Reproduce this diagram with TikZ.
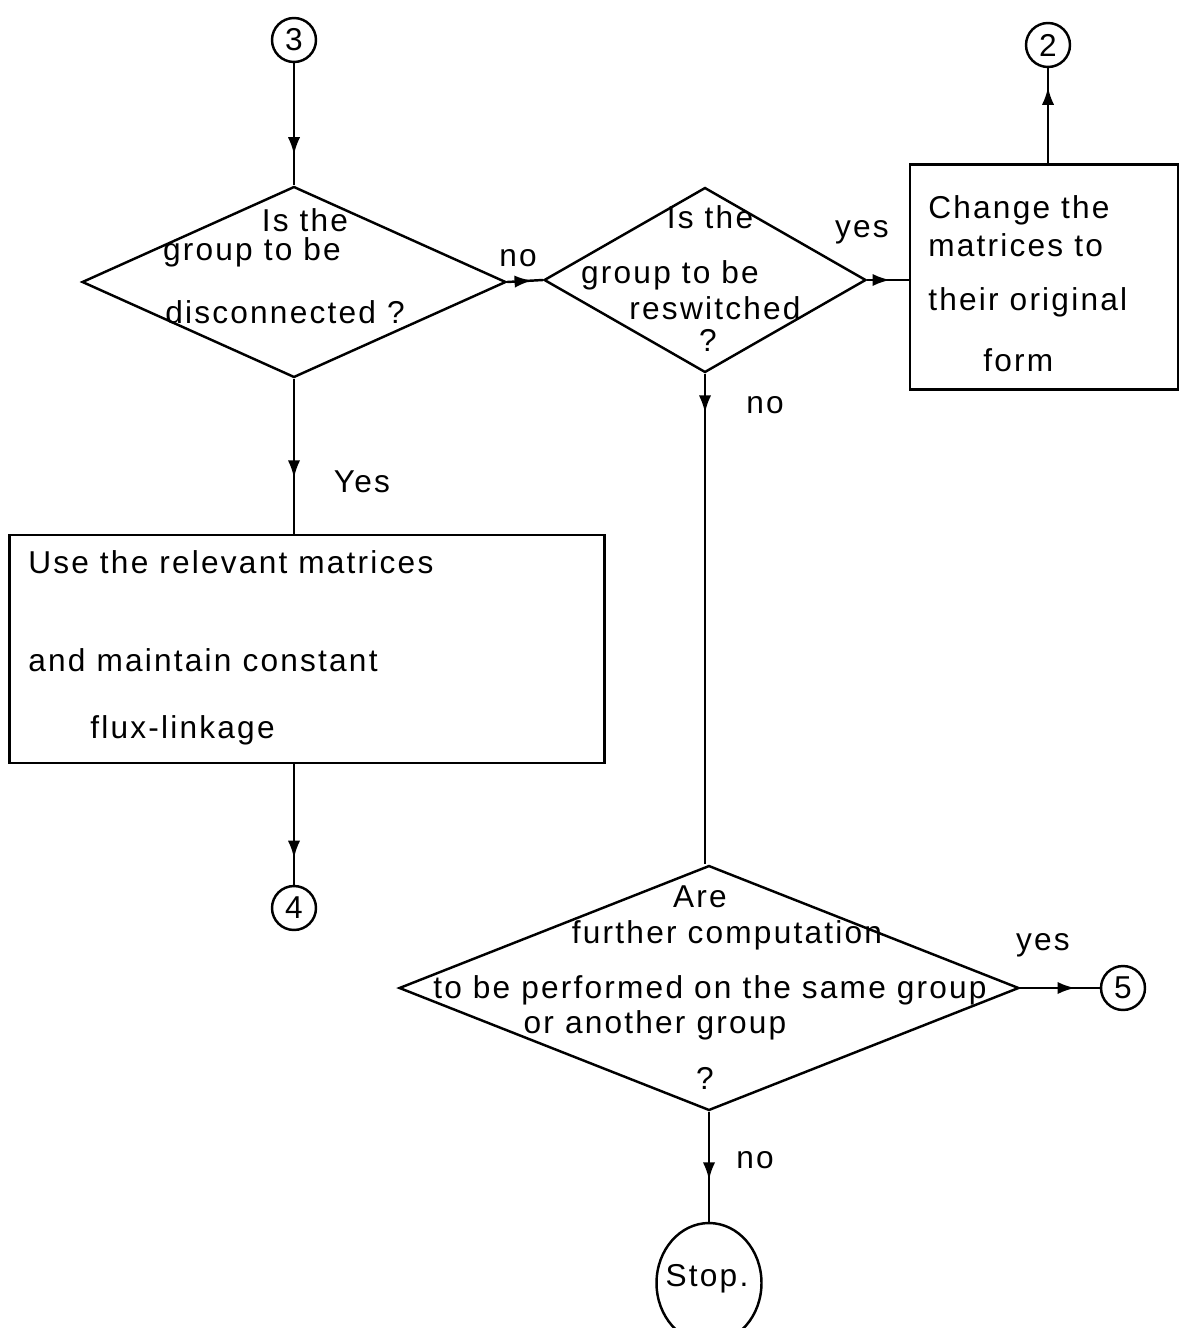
\documentclass[tikz,border=0pt]{standalone}
\usepackage{fontspec}
\setmainfont[LetterSpace=7]{Liberation Sans}
\usetikzlibrary{shapes.geometric,decorations.markings,arrows.meta}

\tikzset{
  flowline/.style={line width=1.4pt},
  arrowat/.style={flowline,postaction={decorate},
    decoration={markings,mark=at position #1 with {\arrow{Latex[length=10pt,width=7pt]}}}},
  decision/.style={draw,diamond,line width=1.4pt,inner sep=0pt},
  process/.style={draw,rectangle,line width=1.4pt,inner sep=0pt},
  connector/.style={draw,circle,line width=1.4pt,minimum size=0.88cm,inner sep=0pt},
  txt/.style={inner sep=0pt}
}

\begin{document}
\begin{tikzpicture}[x=0.02cm,y=-0.02cm,font=\fontsize{18}{22}\selectfont]
    \useasboundingbox (0,0) rectangle (1187,1328);
    % Connectors and stop
    \node[connector] (c3) at (294,40) {3};
    \node[connector] (c2) at (1048,45) {2};
    \node[connector] (c4) at (294,908) {4};
    \node[connector] (c5) at (1123,988) {5};
    \node[draw,ellipse,line width=1.4pt,minimum width=2.1cm,minimum height=2.4cm,inner sep=0pt] (stop) at (709,1283) {};
    \node[txt] (stoptxt) at (707,1279) {Stop.};

    % Decisions
    \node[decision,minimum width=8.48cm,minimum height=3.82cm] (d1) at (294,282) {};
    \node[decision,minimum width=6.44cm,minimum height=3.7cm] (d2) at (705,280) {};
    \node[decision,minimum width=12.4cm,minimum height=4.9cm] (d3) at (709,988) {};

    % Boxes
    \node[process,minimum width=11.9cm,minimum height=4.56cm] (box1) at (307,649) {};
    \node[process,minimum width=5.36cm,minimum height=4.5cm] (box2) at (1044,277) {};

    % Texts in the first decision
    \node[txt] (d1a) at (305,220) {Is the};
    \node[txt] (d1b) at (252,252) {group to be};
    \node[txt] (d1c) at (285,312) {disconnected ?};

    % Texts in the second decision
    \node[txt] (d2a) at (710,217) {Is the};
    \node[txt] (d2b) at (670,275) {group to be};
    \node[txt] (d2c) at (715,308) {reswitched};
    \node[txt] (d2d) at (708,340) {?};

    % Texts in the boxes
    \node[txt,anchor=west] (b2a) at (928,210) {Change the};
    \node[txt,anchor=west] (b2b) at (928,245) {matrices to};
    \node[txt,anchor=west] (b2c) at (928,302) {their original};
    \node[txt,anchor=west] (b2d) at (983,360) {form};
    \node[txt,anchor=west] (b1a) at (28,562) {Use the relevant matrices};
    \node[txt,anchor=west] (b1b) at (28,660) {and maintain constant};
    \node[txt,anchor=west] (b1c) at (90,730) {flux-linkage};

    % Texts in the third decision
    \node[txt] (d3a) at (700,897) {Are};
    \node[txt] (d3b) at (727,935) {further computation};
    \node[txt] (d3c) at (710,990) {to be performed on the same group};
    \node[txt] (d3d) at (655,1025) {or another group};
    \node[txt] (d3e) at (705,1078) {?};

    % Branch labels
    \node[txt] (no1) at (518,258) {no};
    \node[txt] (yes1) at (862,232) {yes};
    \node[txt] (yes2) at (362,482) {Yes};
    \node[txt] (no2) at (765,405) {no};
    \node[txt] (yes3) at (1043,945) {yes};
    \node[txt] (no3) at (755,1160) {no};

    % Flow lines
    \draw[arrowat=0.75] (c3.south) -- (d1.north);
    \draw[arrowat=0.7] (d1.east) -- (d2.west);
    \draw[arrowat=0.55] (d2.east) -- (d2.east -| box2.west);
    \draw[arrowat=0.8] (box2.north -| c2) -- (c2.south);
    \draw[arrowat=0.64] (d1.south) -- (d1.south |- box1.north);
    \draw[arrowat=0.78] (box1.south -| c4) -- (c4.north);
    \draw[arrowat=0.08] (d2.south) -- (d2.south |- d3.north);
    \draw[arrowat=0.69] (d3.east) -- (c5.west);
    \draw[arrowat=0.62] (d3.south) -- (stop.north);
\end{tikzpicture}
\end{document}
